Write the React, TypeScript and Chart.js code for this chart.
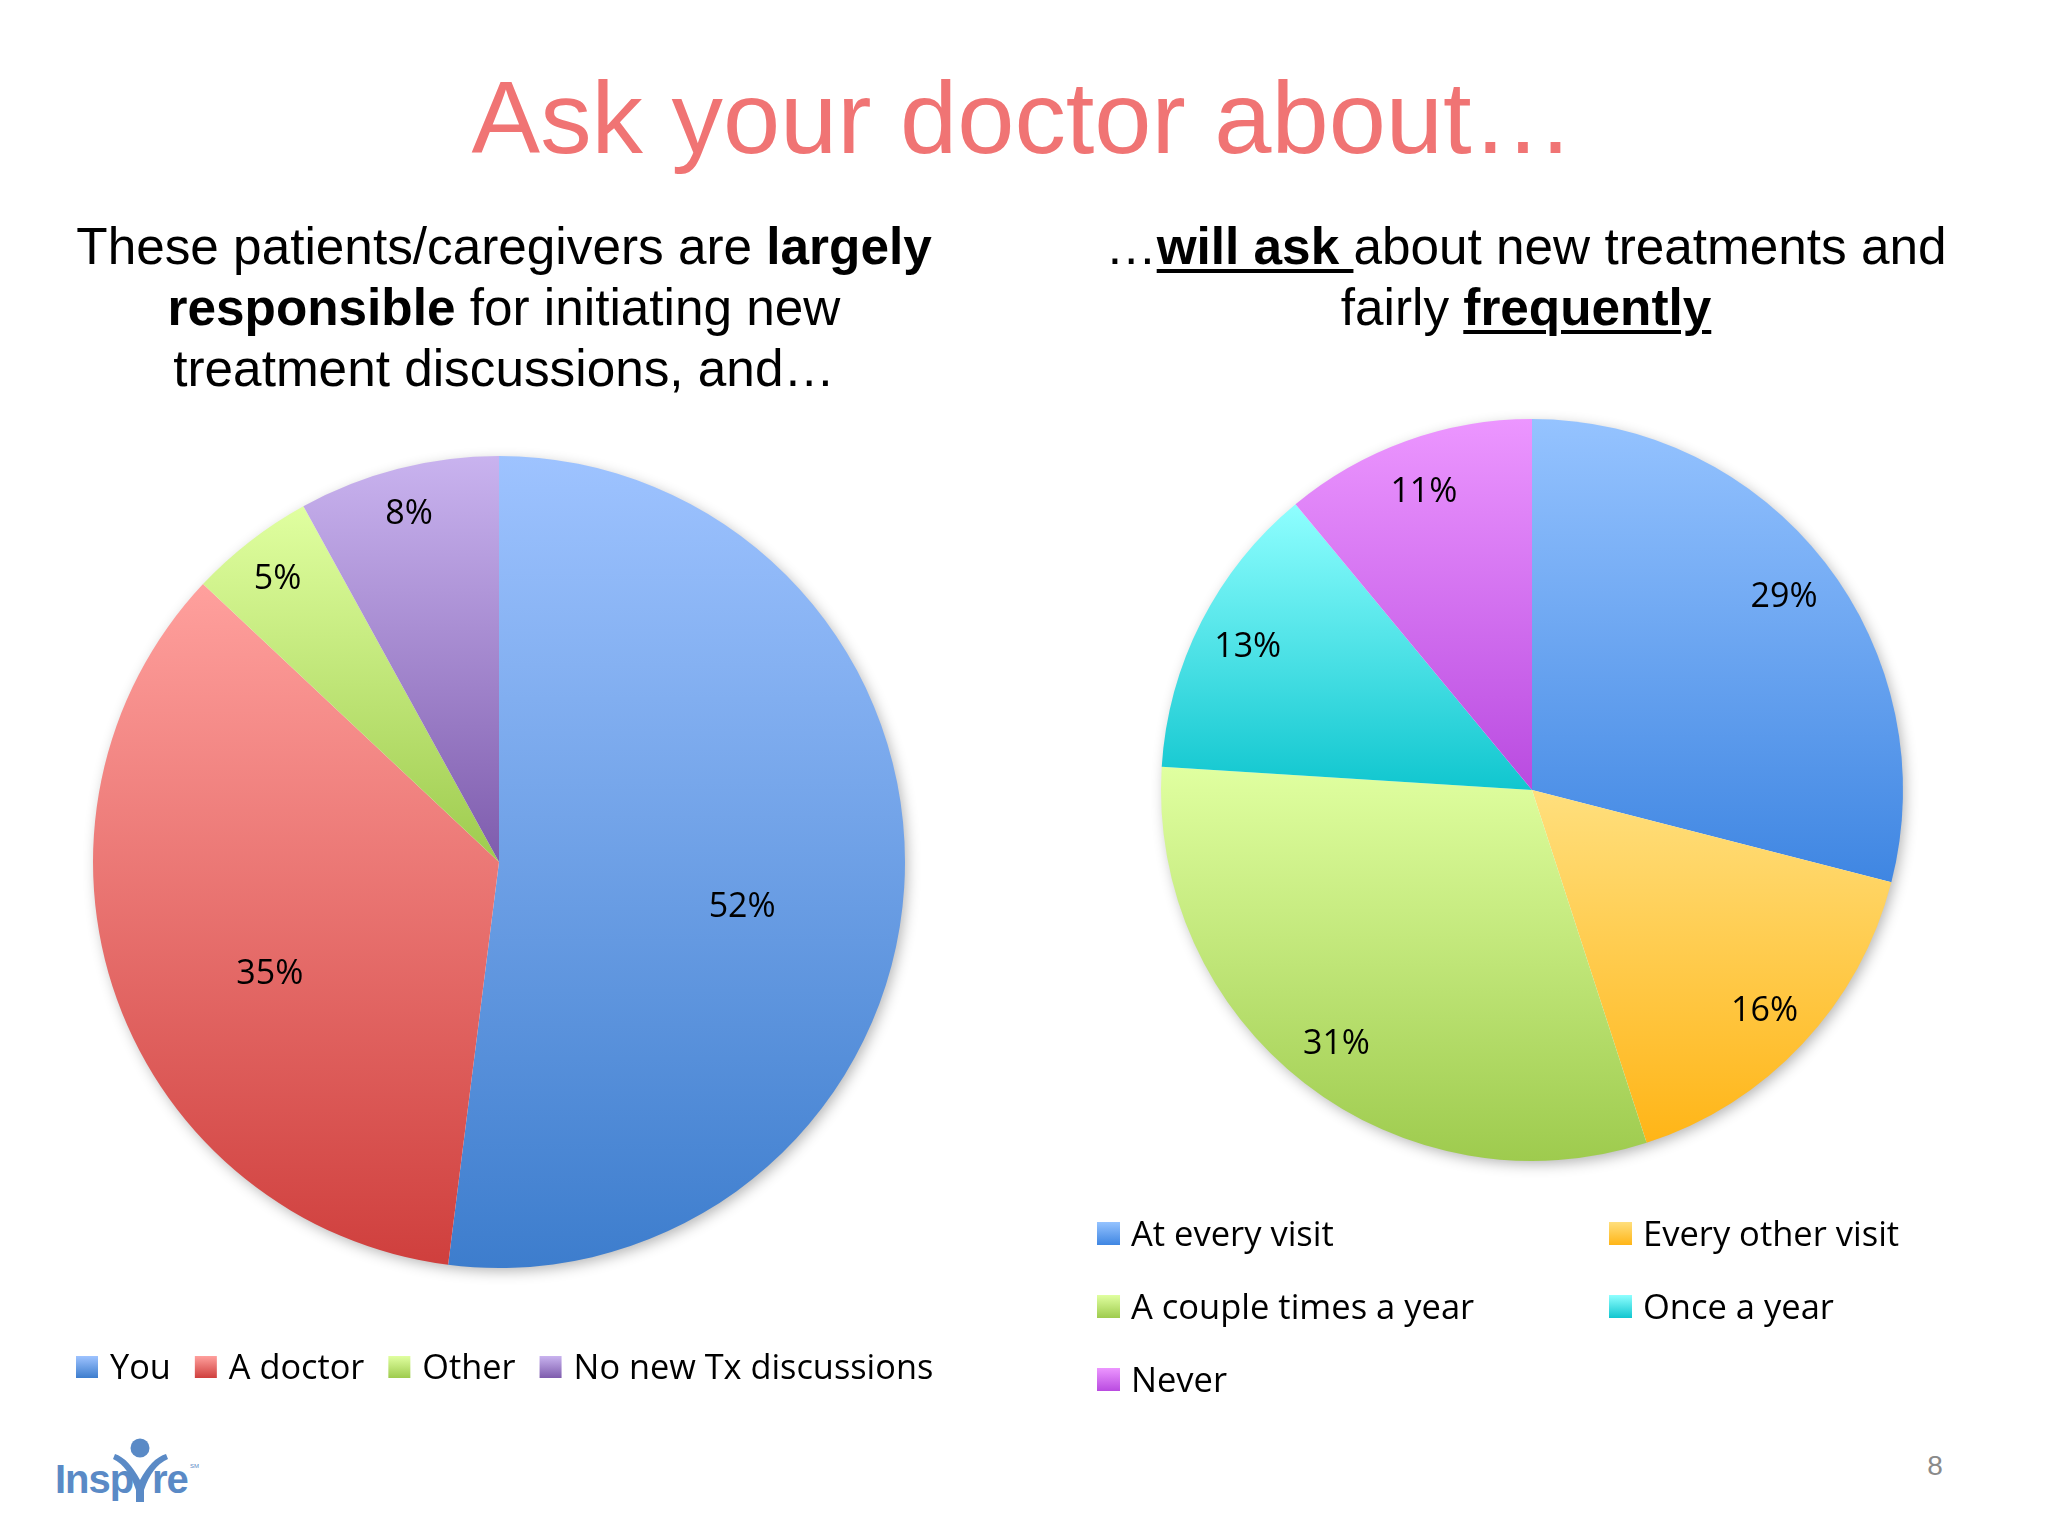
import React, { useEffect, useRef } from 'react';
import { Chart, registerables } from 'chart.js';

Chart.register(...registerables);

// ---------- data ----------
const leftCategories = ['You', 'A doctor', 'Other', 'No new Tx discussions'];
const leftValues = [52, 35, 5, 8];
const leftTopColors = ['#9EC3FF', '#FFA09D', '#E0FFA0', '#C9B3EF'];
const leftBottomColors = ['#3D7DCD', '#CF3F3D', '#9ECB4E', '#7E5CAD'];

const rightCategories = ['At every visit', 'Every other visit', 'A couple times a year', 'Once a year', 'Never'];
const rightValues = [29, 16, 31, 13, 11];
const rightTopColors = ['#95C3FF', '#FFDF7D', '#E0FFA0', '#8FFFFF', '#EC96FF'];
const rightBottomColors = ['#3F86E2', '#FFB517', '#9ECB4E', '#10C6CF', '#B94BE0'];

const LABEL_FONT = '"Open Sans", "Noto Sans", sans-serif';

// ---------- helpers ----------
function sliceGradient(tops: string[], bottoms: string[]) {
  return (ctx: any) => {
    const chart = ctx.chart;
    const i = ctx.dataIndex;
    const area = chart.chartArea;
    if (!area || i === undefined) return tops[i ?? 0];
    const data = chart.data.datasets[0].data as number[];
    const total = data.reduce((a: number, b: number) => a + b, 0);
    let cum = 0;
    for (let k = 0; k < i; k++) cum += data[k];
    const a0 = -Math.PI / 2 + (2 * Math.PI * cum) / total;
    const a1 = a0 + (2 * Math.PI * data[i]) / total;
    const cy = (area.top + area.bottom) / 2;
    const r = Math.min(area.right - area.left, area.bottom - area.top) / 2;
    let ymin = cy;
    let ymax = cy;
    const angles = [a0, a1];
    for (const ext of [-Math.PI / 2, Math.PI / 2, (3 * Math.PI) / 2]) {
      if (ext > a0 && ext < a1) angles.push(ext);
    }
    for (const a of angles) {
      const y = cy + r * Math.sin(a);
      ymin = Math.min(ymin, y);
      ymax = Math.max(ymax, y);
    }
    const g = chart.ctx.createLinearGradient(0, ymin, 0, ymax);
    g.addColorStop(0, tops[i]);
    g.addColorStop(1, bottoms[i]);
    return g;
  };
}

function makeShadow() {
  return {
    id: 'pieShadow',
    beforeDatasetsDraw(chart: any) {
      const arc = chart.getDatasetMeta(0).data[0];
      if (!arc) return;
      const p = arc.getProps(['x', 'y', 'outerRadius'], true);
      const c = chart.ctx;
      c.save();
      c.shadowColor = 'rgba(0,0,0,0.30)';
      c.shadowBlur = 14;
      c.shadowOffsetX = 3;
      c.shadowOffsetY = 4;
      c.beginPath();
      c.arc(p.x, p.y, p.outerRadius - 1, 0, Math.PI * 2);
      c.fillStyle = '#ffffff';
      c.fill();
      c.restore();
    },
  };
}

// small slices: label near the rim; large slices: "best fit" nearer the middle, nudged down
function makeValueLabels(fontSize: number, smallFrac: number, largeFrac: number, largeDrop: number, threshold: number) {
  return {
    id: 'valueLabels',
    afterDatasetsDraw(chart: any) {
      const meta = chart.getDatasetMeta(0);
      const data = chart.data.datasets[0].data as number[];
      const c = chart.ctx;
      c.save();
      c.font = `${fontSize}px ${LABEL_FONT}`;
      c.fillStyle = '#000000';
      c.textAlign = 'center';
      c.textBaseline = 'alphabetic';
      meta.data.forEach((arc: any, i: number) => {
        const p = arc.getProps(['x', 'y', 'startAngle', 'endAngle', 'outerRadius'], true);
        const mid = (p.startAngle + p.endAngle) / 2;
        const v = data[i];
        const small = v < threshold;
        const f = small ? smallFrac : largeFrac;
        const x = p.x + Math.cos(mid) * p.outerRadius * f;
        const y = p.y + Math.sin(mid) * p.outerRadius * f + (small ? 0 : largeDrop * p.outerRadius);
        c.fillText(`${v}%`, x, y + fontSize * 0.357);
      });
      c.restore();
    },
  };
}

interface LegendLayout {
  x: number;
  y: number;
  box: number;
  textGap: number;
  itemGap: number;
  fontSize: number;
  cols?: number;
  colWidth?: number;
  rowHeight?: number;
}

function makeLegend(tops: string[], bottoms: string[], L: LegendLayout) {
  return {
    id: 'boxLegend',
    afterDraw(chart: any) {
      const labels = chart.data.labels as string[];
      const c = chart.ctx;
      c.save();
      c.font = `${L.fontSize}px ${LABEL_FONT}`;
      c.textAlign = 'left';
      c.textBaseline = 'alphabetic';
      let fx = L.x;
      labels.forEach((lab, i) => {
        let bx: number;
        let by: number;
        if (L.cols) {
          bx = L.x + (i % L.cols) * (L.colWidth || 0);
          by = L.y + Math.floor(i / L.cols) * (L.rowHeight || 0);
        } else {
          bx = fx;
          by = L.y;
        }
        const g = c.createLinearGradient(0, by, 0, by + L.box);
        g.addColorStop(0, tops[i]);
        g.addColorStop(1, bottoms[i]);
        c.fillStyle = g;
        c.fillRect(bx, by, L.box, L.box);
        c.fillStyle = '#000000';
        const tx = bx + L.textGap;
        c.fillText(lab, tx, by + L.box / 2 + L.fontSize * 0.357);
        fx = tx + c.measureText(lab).width + L.itemGap;
      });
      c.restore();
    },
  };
}

interface PieProps {
  labels: string[];
  values: number[];
  tops: string[];
  bottoms: string[];
  left: number;
  top: number;
  width: number;
  height: number;
  padding: { left: number; right: number; top: number; bottom: number };
  legend: LegendLayout;
  smallFrac: number;
  largeFrac: number;
  largeDrop: number;
  threshold: number;
}

function PieChart(props: PieProps) {
  const ref = useRef<HTMLCanvasElement>(null);
  useEffect(() => {
    if (!ref.current) return;
    const chart = new Chart(ref.current, {
      type: 'pie',
      data: {
        labels: props.labels,
        datasets: [
          {
            data: props.values,
            backgroundColor: sliceGradient(props.tops, props.bottoms) as any,
            borderWidth: 0,
          },
        ],
      },
      options: {
        responsive: false,
        animation: false,
        events: [],
        layout: { padding: props.padding },
        plugins: {
          legend: { display: false },
          tooltip: { enabled: false },
        },
      },
      plugins: [
        makeShadow(),
        makeValueLabels(34, props.smallFrac, props.largeFrac, props.largeDrop, props.threshold),
        makeLegend(props.tops, props.bottoms, props.legend),
      ] as any,
    });
    return () => chart.destroy();
  }, []);
  return (
    <canvas
      ref={ref}
      width={props.width}
      height={props.height}
      style={{ position: 'absolute', left: props.left, top: props.top, width: props.width, height: props.height }}
    />
  );
}

const arial = '"Liberation Sans", Arial, Helvetica, sans-serif';
const logoFont = '"Liberation Sans Narrow", "Arial Narrow", "Liberation Sans", sans-serif';
const logoBlue = '#5A8AC6';

export default function App() {
  const sub: React.CSSProperties = {
    position: 'absolute',
    top: 216,
    width: 1000,
    textAlign: 'center',
    fontFamily: arial,
    fontSize: 51.3,
    lineHeight: '61px',
    color: '#000',
    margin: 0,
  };
  const ul: React.CSSProperties = {
    textDecoration: 'underline',
    textDecorationThickness: '4px',
    textUnderlineOffset: '5px',
    fontWeight: 'bold',
  };
  const logoText: React.CSSProperties = {
    position: 'absolute',
    top: 1459,
    fontFamily: logoFont,
    fontWeight: 'bold',
    fontSize: 40,
    lineHeight: '40px',
    letterSpacing: -1,
    color: logoBlue,
    whiteSpace: 'nowrap',
  };
  return (
    <div
      style={{
        position: 'fixed',
        left: 0,
        top: 0,
        width: 2048,
        height: 1536,
        background: '#ffffff',
        overflow: 'hidden',
      }}
    >
      <div
        style={{
          position: 'absolute',
          left: 0,
          top: 67,
          width: 2046,
          textAlign: 'center',
          fontFamily: arial,
          fontSize: 102.8,
          lineHeight: '102px',
          color: '#F07474',
          whiteSpace: 'nowrap',
        }}
      >
        Ask your doctor about…
      </div>

      <div style={{ ...sub, left: 4 }}>
        These patients/caregivers are <b>largely</b>
        <br />
        <b>responsible</b> for initiating new
        <br />
        treatment discussions, and…
      </div>

      <div style={{ ...sub, left: 1026 }}>
        …<span style={ul}>will ask </span>about new treatments and
        <br />
        fairly <span style={ul}>frequently</span>
      </div>

      <PieChart
        labels={leftCategories}
        values={leftValues}
        tops={leftTopColors}
        bottoms={leftBottomColors}
        left={40}
        top={440}
        width={920}
        height={960}
        padding={{ left: 53, right: 55, top: 16, bottom: 132 }}
        legend={{ x: 36, y: 916, box: 22, textGap: 34, itemGap: 24, fontSize: 34.3 }}
        smallFrac={0.89}
        largeFrac={0.6}
        largeDrop={0.068}
        threshold={20}
      />

      <PieChart
        labels={rightCategories}
        values={rightValues}
        tops={rightTopColors}
        bottoms={rightBottomColors}
        left={1080}
        top={400}
        width={900}
        height={1020}
        padding={{ left: 81, right: 77, top: 19, bottom: 259 }}
        legend={{ x: 17, y: 822, box: 23, textGap: 34, itemGap: 26, fontSize: 34.5, cols: 2, colWidth: 512, rowHeight: 73 }}
        smallFrac={0.86}
        largeFrac={0.86}
        largeDrop={0}
        threshold={20}
      />

      {/* logo */}
      <div style={{ ...logoText, left: 55 }}>Insp</div>
      <svg style={{ position: 'absolute', left: 112, top: 1436 }} width={58} height={70} viewBox="0 0 58 70">
        <circle cx={28} cy={12} r={9.5} fill={logoBlue} />
        <path
          d="M3 18 Q16 22 28 44 Q40 22 54 18 L56 23 Q40 30 32 54 L32 66 L24 66 L24 54 Q16 30 1 23 Z"
          fill={logoBlue}
        />
      </svg>
      <div style={{ ...logoText, left: 152 }}>re</div>
      <div
        style={{
          position: 'absolute',
          left: 190,
          top: 1463,
          fontFamily: arial,
          fontSize: 6,
          color: logoBlue,
        }}
      >
        SM
      </div>

      {/* page number */}
      <div
        style={{
          position: 'absolute',
          left: 1915,
          top: 1452,
          width: 40,
          textAlign: 'center',
          fontFamily: arial,
          fontSize: 28,
          lineHeight: '28px',
          color: '#8A8A8A',
        }}
      >
        8
      </div>
    </div>
  );
}
